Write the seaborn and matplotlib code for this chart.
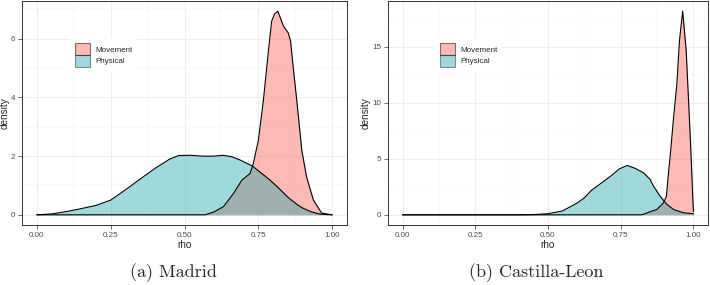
import numpy as np
import pandas as pd
import seaborn as sns
import matplotlib.pyplot as plt
from matplotlib.patches import Patch
from matplotlib.ticker import MultipleLocator

# density curves (rho -> density)
groups = ['Movement', 'Physical']
colors = {'Movement': '#F8766D', 'Physical': '#12A2A8'}
alphas = {'Movement': 0.5, 'Physical': 0.4}

madrid_phys_x = [0.00, 0.05, 0.10, 0.15, 0.20, 0.25, 0.30, 0.35, 0.40, 0.45, 0.48, 0.52,
                 0.56, 0.60, 0.63, 0.66, 0.69, 0.73, 0.76, 0.79, 0.82, 0.85, 0.88, 0.90,
                 0.93, 0.96, 1.00]
madrid_phys_y = [0.00, 0.03, 0.11, 0.21, 0.32, 0.50, 0.85, 1.22, 1.58, 1.90, 2.02, 2.03,
                 2.00, 2.00, 2.03, 1.98, 1.86, 1.66, 1.42, 1.18, 0.90, 0.60, 0.36, 0.23,
                 0.10, 0.02, 0.00]
madrid_move_x = [0.00, 0.57, 0.60, 0.632, 0.666, 0.694, 0.722, 0.733, 0.750, 0.767, 0.784,
                 0.795, 0.805, 0.816, 0.835, 0.851, 0.859, 0.868, 0.880, 0.897, 0.913,
                 0.936, 0.964, 1.00]
madrid_move_y = [0.00, 0.00, 0.10, 0.28, 0.73, 1.18, 1.41, 1.75, 2.54, 3.90, 5.58,
                 6.60, 6.85, 6.94, 6.43, 6.20, 5.92, 5.02, 3.90, 2.20, 1.30,
                 0.51, 0.06, 0.00]

cyl_phys_x = [0.00, 0.40, 0.45, 0.50, 0.55, 0.60, 0.624, 0.65, 0.692, 0.72, 0.745, 0.772,
              0.80, 0.829, 0.85, 0.863, 0.886, 0.909, 0.932, 0.966, 1.00]
cyl_phys_y = [0.00, 0.00, 0.02, 0.10, 0.35, 1.05, 1.50, 2.20, 3.00, 3.55, 4.10, 4.41,
              4.15, 3.74, 3.20, 2.55, 1.65, 0.92, 0.47, 0.18, 0.10]
cyl_move_x = [0.00, 0.82, 0.829, 0.852, 0.874, 0.897, 0.907, 0.914, 0.922, 0.932, 0.943,
              0.952, 0.963, 0.975, 0.983, 0.991, 0.998, 1.00]
cyl_move_y = [0.00, 0.00, 0.05, 0.29, 0.47, 1.07, 1.65, 3.70, 5.80, 8.80, 11.7,
              15.6, 18.2, 14.7, 10.3, 5.8, 1.36, 0.30]

x_ticks = [0.00, 0.25, 0.50, 0.75, 1.00]
x_tick_labels = ['0.00', '0.25', '0.50', '0.75', '1.00']
captions = ['(a) Madrid', '(b) Castilla-Leon']
y_steps = [2, 5]


def to_frame(move_x, move_y, phys_x, phys_y):
    a = pd.DataFrame({'rho': move_x, 'density': move_y, 'group': 'Movement'})
    b = pd.DataFrame({'rho': phys_x, 'density': phys_y, 'group': 'Physical'})
    return pd.concat([a, b], ignore_index=True)


panels = [to_frame(madrid_move_x, madrid_move_y, madrid_phys_x, madrid_phys_y),
          to_frame(cyl_move_x, cyl_move_y, cyl_phys_x, cyl_phys_y)]

sns.set_theme(style='whitegrid')
plt.rcParams['font.family'] = ['Liberation Sans', 'DejaVu Sans']

fig = plt.figure(figsize=(7.1, 2.85), dpi=100)
ax_boxes = [[22 / 710, 1 - 225 / 285, 325 / 710, 224 / 285],
            [388 / 710, 1 - 225 / 285, 320 / 710, 224 / 285]]

for i, df in enumerate(panels):
    ax = fig.add_axes(ax_boxes[i])
    for g in groups:
        d = df[df['group'] == g]
        ax.fill_between(d['rho'], d['density'], 0, color=colors[g], alpha=alphas[g], lw=0)
        sns.lineplot(data=d, x='rho', y='density', color='black', lw=0.8,
                     estimator=None, sort=False, ax=ax)

    ymax = df['density'].max()
    ax.set_xlim(-0.05, 1.05)
    ax.set_ylim(-0.05 * ymax, 1.05 * ymax)
    ax.set_xticks(x_ticks)
    ax.set_xticklabels(x_tick_labels)
    ax.xaxis.set_minor_locator(MultipleLocator(0.125))
    ax.yaxis.set_major_locator(MultipleLocator(y_steps[i]))
    ax.yaxis.set_minor_locator(MultipleLocator(y_steps[i] / 2))

    ax.grid(which='major', color='#EBEBEB', lw=0.6)
    ax.grid(which='minor', color='#F2F2F2', lw=0.35)
    ax.set_axisbelow(True)
    for s in ax.spines.values():
        s.set_color('#333333')
        s.set_linewidth(0.7)
    ax.tick_params(which='major', length=3, width=0.5, color='#333333',
                   labelsize=5.8, labelcolor='#4D4D4D', pad=2,
                   bottom=True, left=True)
    ax.tick_params(which='minor', length=0)
    ax.set_xlabel('rho', fontsize=7.2, labelpad=1)
    ax.set_ylabel('density', fontsize=7.2, labelpad=1)

    handles = [Patch(facecolor=colors[g], alpha=alphas[g], edgecolor='black', lw=0.8)
               for g in groups]
    leg = ax.legend(handles, groups, loc='upper left', bbox_to_anchor=(0.148, 0.834),
                    borderaxespad=0, borderpad=0.6, fontsize=5.8, frameon=True,
                    handlelength=1.9, handleheight=1.9, labelspacing=0,
                    handletextpad=0.6)
    leg.get_frame().set_facecolor('white')
    leg.get_frame().set_edgecolor('none')
    leg.get_frame().set_alpha(1)
    leg.get_frame().set_boxstyle('square', pad=0)

fig.text(173 / 710, 1 - 273 / 285, captions[0], family='cmr10', fontsize=13,
         ha='center', va='center')
fig.text(536 / 710, 1 - 273 / 285, captions[1], family='cmr10', fontsize=13,
         ha='center', va='center')

plt.savefig('out.png', dpi=100)
